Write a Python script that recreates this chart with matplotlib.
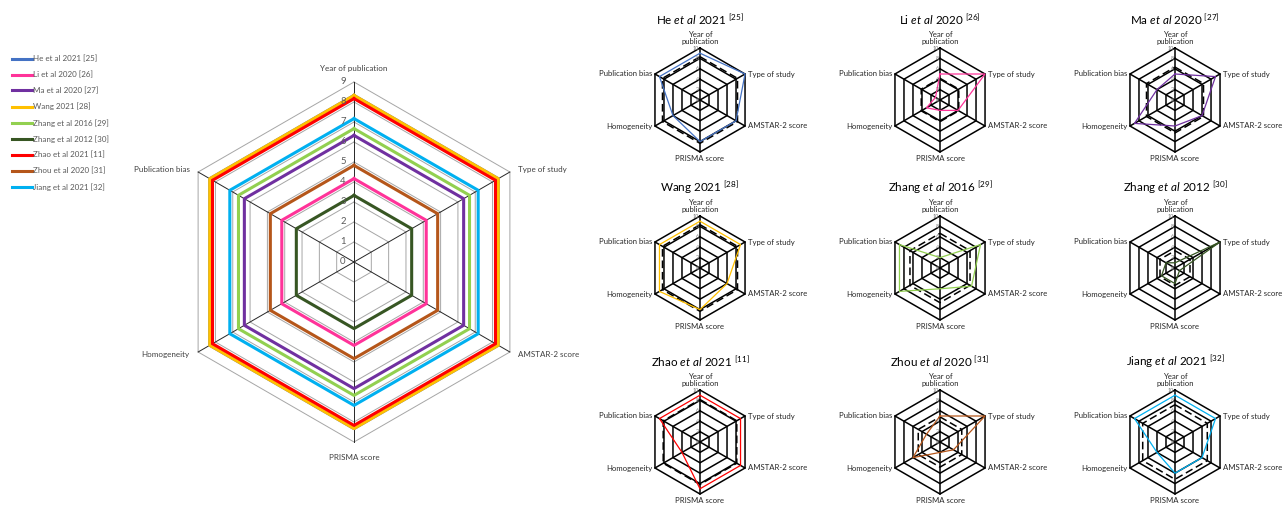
import numpy as np
import matplotlib
matplotlib.use("Agg")
import matplotlib.pyplot as plt

plt.rcParams['font.family'] = ['Lato', 'DejaVu Sans']
plt.rcParams['mathtext.fontset'] = 'custom'
plt.rcParams['mathtext.rm'] = 'Lato'
plt.rcParams['mathtext.it'] = 'Lato:italic'
plt.rcParams['mathtext.bf'] = 'Lato:bold'

# ---------------- data ----------------
categories = ["Year of publication", "Type of study", "AMSTAR-2 score",
              "PRISMA score", "Homogeneity", "Publication bias"]
small_categories = ["Year of\npublication", "Type of study", "AMSTAR-2 score",
                    "PRISMA score", "Homogeneity", "Publication bias"]
studies = ["He et al 2021 [25]", "Li et al 2020 [26]", "Ma et al 2020 [27]",
           "Wang 2021 [28]", "Zhang et al 2016 [29]", "Zhang et al 2012 [30]",
           "Zhao et al 2021 [11]", "Zhou et al 2020 [31]", "Jiang et al 2021 [32]"]
titles = [r"He $\mathit{et\ al}$ 2021 $^{[25]}$", r"Li $\mathit{et\ al}$ 2020 $^{[26]}$",
          r"Ma $\mathit{et\ al}$ 2020 $^{[27]}$", r"Wang 2021 $^{[28]}$",
          r"Zhang $\mathit{et\ al}$ 2016 $^{[29]}$", r"Zhang $\mathit{et\ al}$ 2012 $^{[30]}$",
          r"Zhao $\mathit{et\ al}$ 2021 $^{[11]}$", r"Zhou $\mathit{et\ al}$ 2020 $^{[31]}$",
          r"Jiang $\mathit{et\ al}$ 2021 $^{[32]}$"]
colors = ["#4472C4", "#FF3399", "#7030A0", "#FFC000", "#92D050",
          "#375623", "#FF0000", "#B5561A", "#00B0F0"]

he_2021 = [9, 10, 8, 8, 6, 9]
li_2020 = [5, 10, 4, 2, 3, 1]
ma_2020 = [5, 9, 6, 5, 9, 4]
wang_2021 = [9, 9, 6, 8, 9, 9]
zhang_2016 = [2, 9, 7, 4, 9, 9]
zhang_2012 = [1, 10, 1, 3, 3, 2]
zhao_2021 = [9, 9, 9, 9, 4, 9]
zhou_2020 = [5, 10, 3, 2, 6, 3]
jiang_2021 = [9, 9, 6, 6, 4, 9]
study_scores = [he_2021, li_2020, ma_2020, wang_2021, zhang_2016,
                zhang_2012, zhao_2021, zhou_2020, jiang_2021]

# overall (mean) score per study, shown in the big chart and as dashed line
mean_scores = [8.33, 4.17, 6.33, 8.33, 6.67, 3.33, 8.17, 4.83, 7.17]

main_ticks = list(range(0, 10))
small_ticks = [0, 2, 4, 6, 8, 10]

# ---------------- figure ----------------
W, H = 1284, 508
fig = plt.figure(figsize=(W / 100, H / 100), dpi=100)
fig.patch.set_facecolor("white")

n = len(categories)
theta = np.arange(n) * 2 * np.pi / n
theta_c = np.append(theta, theta[0])


def rect_from(cx, cy, rpx):
    return [(cx - rpx) / W, (H - cy - rpx) / H, 2 * rpx / W, 2 * rpx / H]


def radar_axes(rect, rmax):
    ax = fig.add_axes(rect, projection="polar")
    ax.set_theta_offset(np.pi / 2)
    ax.set_theta_direction(-1)
    ax.set_axis_off()
    ax.set_ylim(0, rmax)
    return ax


def closed(vals):
    v = list(vals)
    return v + [v[0]]


# ---------------- main radar ----------------
axm = radar_axes(rect_from(354, 262, 180), 9)
for lev in main_ticks[1:]:
    axm.plot(theta_c, [lev] * (n + 1), color="#A6A6A6", lw=0.7, clip_on=False, zorder=1)
for t in theta:
    axm.plot([t, t], [0, 9], color="#262626", lw=0.7, clip_on=False, zorder=1.5)

main_lines = []
for i, s in enumerate(studies):
    ln, = axm.plot(theta_c, [mean_scores[i]] * (n + 1), color=colors[i], lw=2.2,
                   clip_on=False, zorder=2, label=s)
    main_lines.append(ln)

for k in main_ticks:
    axm.annotate(str(k), xy=(0, k), xytext=(-6, 0), textcoords="offset points",
                 ha="right", va="center", fontsize=6.8, color="#595959",
                 annotation_clip=False, zorder=3)

main_offsets = [((0, 10), "center", "center"), ((6, 2), "left", "center"),
                ((6, -2), "left", "center"), ((0, -11), "center", "center"),
                ((-6, -2), "right", "center"), ((-6, 2), "right", "center")]
for t, lab, (off, ha, va) in zip(theta, categories, main_offsets):
    axm.annotate(lab, xy=(t, 9), xytext=off, textcoords="offset points",
                 ha=ha, va=va, fontsize=5.8, color="#404040", annotation_clip=False)

fig.legend(handles=main_lines, labels=studies, loc="upper left",
           bbox_to_anchor=(12 / W, 1 - 55 / H), frameon=False, fontsize=5.8,
           handlelength=2.5, handletextpad=0.15, labelspacing=1.05,
           borderpad=0, borderaxespad=0, labelcolor="#595959")

# ---------------- small radars ----------------
centers_x = [700, 940, 1175]
centers_y = [100, 268, 442]
R = 52
small_offsets = [((0, 2), "center", "bottom"), ((2, 0), "left", "center"),
                 ((2, 0), "left", "center"), ((0, -2), "center", "top"),
                 ((-2, 0), "right", "center"), ((-2, 0), "right", "center")]

for i in range(len(studies)):
    cx = centers_x[i % 3]
    cy = centers_y[i // 3]
    ax = radar_axes(rect_from(cx, cy, R), 10)
    for lev in small_ticks[1:]:
        ax.plot(theta_c, [lev] * (n + 1), color="black", lw=1.1, clip_on=False, zorder=1)
    for t in theta:
        ax.plot([t, t], [0, 10], color="black", lw=1.1, clip_on=False, zorder=1)
    ax.plot(theta_c, [mean_scores[i]] * (n + 1), color="black", lw=1.1,
            linestyle=(0, (5, 2.5)), clip_on=False, zorder=2)
    ax.plot(theta_c, closed(study_scores[i]), color=colors[i], lw=0.9,
            clip_on=False, zorder=3)
    for k in small_ticks:
        ax.annotate(str(k), xy=(0, k), xytext=(-0.5, 0), textcoords="offset points",
                    ha="right", va="center", fontsize=4, color="#7F7F7F",
                    annotation_clip=False, zorder=4)
    for t, lab, (off, ha, va) in zip(theta, small_categories, small_offsets):
        ax.annotate(lab, xy=(t, 10), xytext=off, textcoords="offset points",
                    ha=ha, va=va, fontsize=5.6, color="#262626",
                    annotation_clip=False, linespacing=1.1)
    ax.annotate(titles[i], xy=(0, 10), xytext=(0, 20), textcoords="offset points",
                ha="center", va="center", fontsize=8.4, color="black",
                annotation_clip=False)

fig.savefig("out.png", dpi=100, facecolor="white")
